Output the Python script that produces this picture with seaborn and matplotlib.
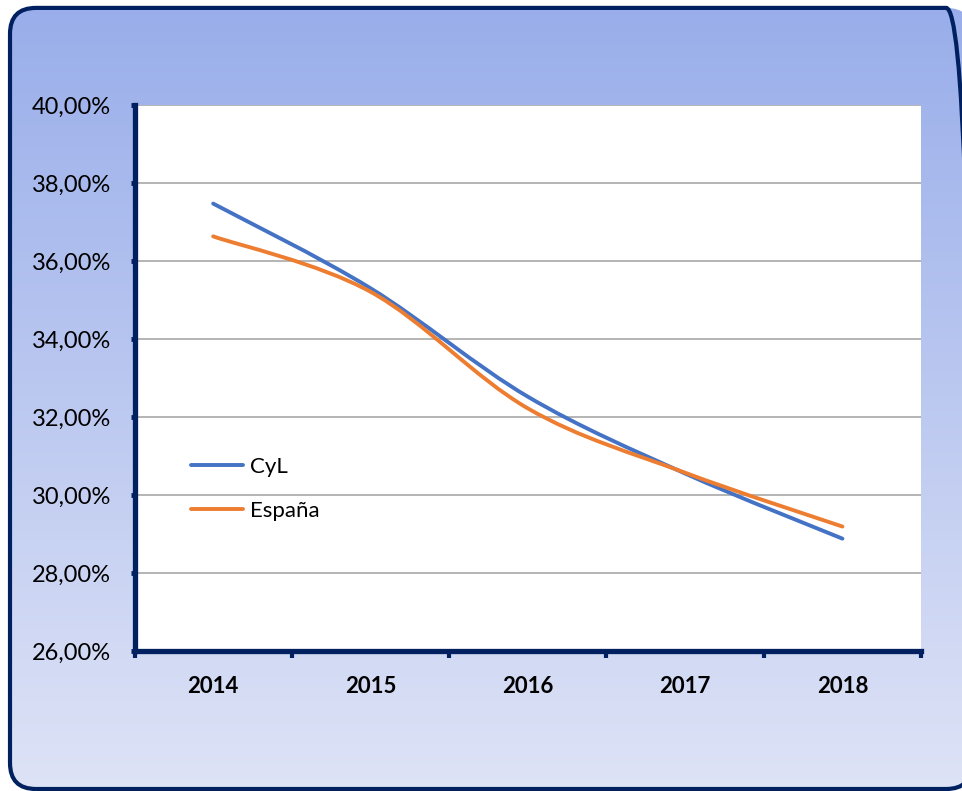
import numpy as np
import matplotlib
matplotlib.use("Agg")
import matplotlib.pyplot as plt
import seaborn as sns
from matplotlib.path import Path
from matplotlib.patches import PathPatch, FancyBboxPatch
from matplotlib.lines import Line2D
from matplotlib.ticker import FuncFormatter, FixedLocator

years = ["2014", "2015", "2016", "2017", "2018"]
cyl = [37.47, 35.30, 32.52, 30.55, 28.88]
espana = [36.63, 35.21, 32.22, 30.57, 29.19]
series_names = ["CyL", "España"]
series_colors = ["#4472C4", "#ED7D31"]

NAVY = "#002060"
W, H = 962, 791

sns.set_theme(style="white")
plt.rcParams["font.family"] = ["Lato", "DejaVu Sans"]


def smooth_path(xs, ys):
    # Excel-like smoothing: Catmull-Rom segments as cubic Bezier curves
    pts = np.column_stack([xs, ys]).astype(float)
    ext = np.vstack([pts[0], pts, pts[-1]])
    verts = [tuple(pts[0])]
    codes = [Path.MOVETO]
    for i in range(1, len(ext) - 2):
        p0, p1, p2, p3 = ext[i - 1], ext[i], ext[i + 1], ext[i + 2]
        c1 = p1 + (p2 - p0) / 6.0
        c2 = p2 - (p3 - p1) / 6.0
        verts += [tuple(c1), tuple(c2), tuple(p2)]
        codes += [Path.CURVE4] * 3
    return Path(verts, codes)


# small offset so the pixel size does not round down to 961
fig = plt.figure(figsize=(W / 100 + 0.001, H / 100 + 0.001), dpi=100)

# gradient background inside a rounded frame (pixel units)
bg = fig.add_axes([0, 0, 1, 1], zorder=0)
top = np.array([152, 173, 234]) / 255
bot = np.array([222, 227, 246]) / 255
t = np.linspace(0, 1, 256)[:, None]
grad = (top * (1 - t) + bot * t)[:, None, :]
grad = np.repeat(grad, 2, axis=1)
im = bg.imshow(grad, extent=[0, W, 0, H], origin="upper", aspect="auto", zorder=1)
frame = FancyBboxPatch((10, 2), 962, 781,
                       boxstyle="round,pad=0,rounding_size=26", linewidth=3.0,
                       edgecolor=NAVY, facecolor="none", zorder=3)
bg.add_patch(frame)
im.set_clip_path(frame)
bg.set_xlim(0, W)
bg.set_ylim(0, H)
bg.axis("off")

ax = fig.add_axes([134.5 / W, 140 / H, (921 - 134.5) / W, 546 / H], zorder=2)
ax.set_facecolor("white")

x = np.arange(len(years))
for vals, name, col in zip([cyl, espana], series_names, series_colors):
    ax.add_patch(PathPatch(smooth_path(x, vals), facecolor="none",
                           edgecolor=col, linewidth=2.8, capstyle="round", zorder=3))

ax.set_xlim(-0.5, 4.5)
ax.set_ylim(26, 40)
ax.set_yticks(np.arange(26, 40.1, 2))
ax.yaxis.set_major_formatter(FuncFormatter(lambda v, p: f"{v:.2f}".replace(".", ",") + "%"))
ax.set_xticks(x)
ax.set_xticklabels(years, fontweight="bold", fontsize=16)
ax.xaxis.set_minor_locator(FixedLocator(np.arange(-0.5, 4.6, 1)))

ax.grid(axis="y", color="#A0A0A0", linewidth=1.1, zorder=1)
ax.set_axisbelow(True)
for s in ["top", "right"]:
    ax.spines[s].set_visible(False)
for s in ["left", "bottom"]:
    ax.spines[s].set_color(NAVY)
    ax.spines[s].set_linewidth(3.8)
    ax.spines[s].set_zorder(4)

ax.tick_params(axis="y", which="major", length=3, width=3.5, color=NAVY,
               labelsize=17, labelcolor="black", pad=14, direction="out", left=True)
ax.tick_params(axis="x", which="major", length=0, pad=18, labelcolor="black")
ax.tick_params(axis="x", which="minor", length=5, width=3, color=NAVY, direction="out", bottom=True)
ax.set_xlabel("")
ax.set_ylabel("")

handles = [Line2D([0], [0], color=c, lw=2.8, solid_capstyle="round") for c in series_colors]
leg = ax.legend(handles, series_names, loc="center left", bbox_to_anchor=(0.046, 0.297),
                frameon=False, handlelength=2.35, handletextpad=0.3, labelspacing=1.05,
                prop={"family": ["Lato", "DejaVu Sans"], "size": 16})
for txt in leg.get_texts():
    txt.set_color("black")

fig.savefig("out.png", dpi=100)
